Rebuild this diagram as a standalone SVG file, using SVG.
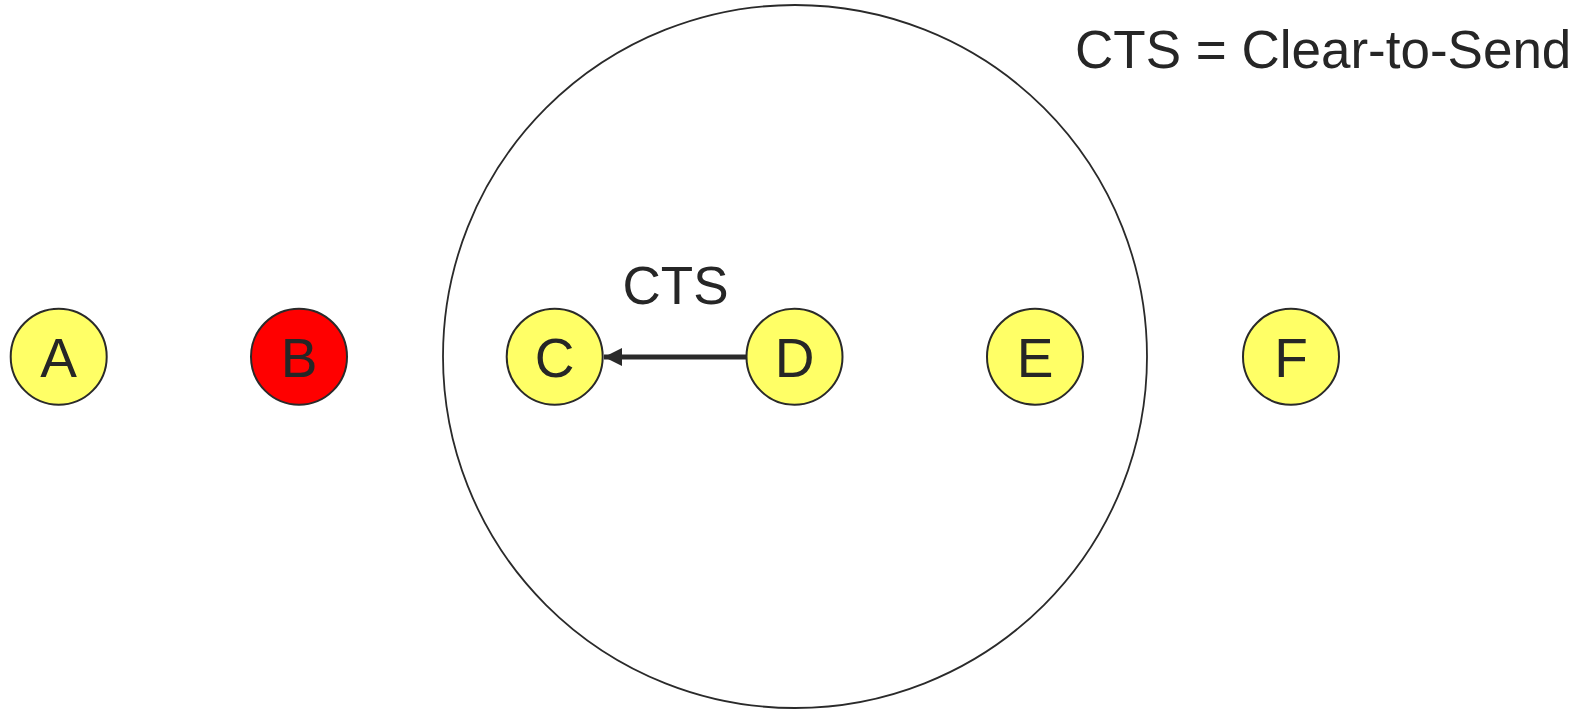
<svg xmlns="http://www.w3.org/2000/svg" width="1589" height="710" viewBox="0 0 1589 710">
<style>
.n{stroke:#2a2a2a;stroke-width:2}
.y{fill:#ffff66}
.r{fill:#ff0000}
.t{font-family:"Liberation Sans",Arial,sans-serif;fill:#262626;text-anchor:middle}
.lt{font-size:55px}
</style>
<defs>
<marker id="ah" markerUnits="userSpaceOnUse" markerWidth="20" markerHeight="20" refX="18" refY="9" orient="auto">
<path d="M0,0 L18,9 L0,18 Z" fill="#2a2a2a"/>
</marker>
</defs>
<rect width="1589" height="710" fill="#ffffff"/>
<g id="range">
<ellipse cx="795" cy="356.5" rx="352" ry="351.5" fill="none" stroke="#2a2a2a" stroke-width="1.8"/>
</g>
<g id="connectors">
<line x1="746" y1="357" x2="604" y2="357" stroke="#2a2a2a" stroke-width="5" marker-end="url(#ah)"/>
<text class="t" x="675.5" y="304" font-size="53">CTS</text>
</g>
<g id="A"><circle class="n y" cx="58.7" cy="356.7" r="48"/><text class="t lt" x="58.7" y="376.5">A</text></g>
<g id="B"><circle class="n r" cx="299" cy="356.7" r="48"/><text class="t lt" x="299" y="376.5">B</text></g>
<g id="C"><circle class="n y" cx="554.7" cy="356.7" r="48"/><text class="t lt" x="554.7" y="376.5">C</text></g>
<g id="D"><circle class="n y" cx="794.5" cy="356.7" r="48"/><text class="t lt" x="794.5" y="376.5">D</text></g>
<g id="E"><circle class="n y" cx="1035" cy="356.7" r="48"/><text class="t lt" x="1035" y="376.5">E</text></g>
<g id="F"><circle class="n y" cx="1291" cy="356.7" r="48"/><text class="t lt" x="1291" y="376.5">F</text></g>
<g id="legend"><text x="1075" y="68" font-family="Liberation Sans, Arial, sans-serif" font-size="53" fill="#262626">CTS = Clear-to-Send</text></g>
</svg>
